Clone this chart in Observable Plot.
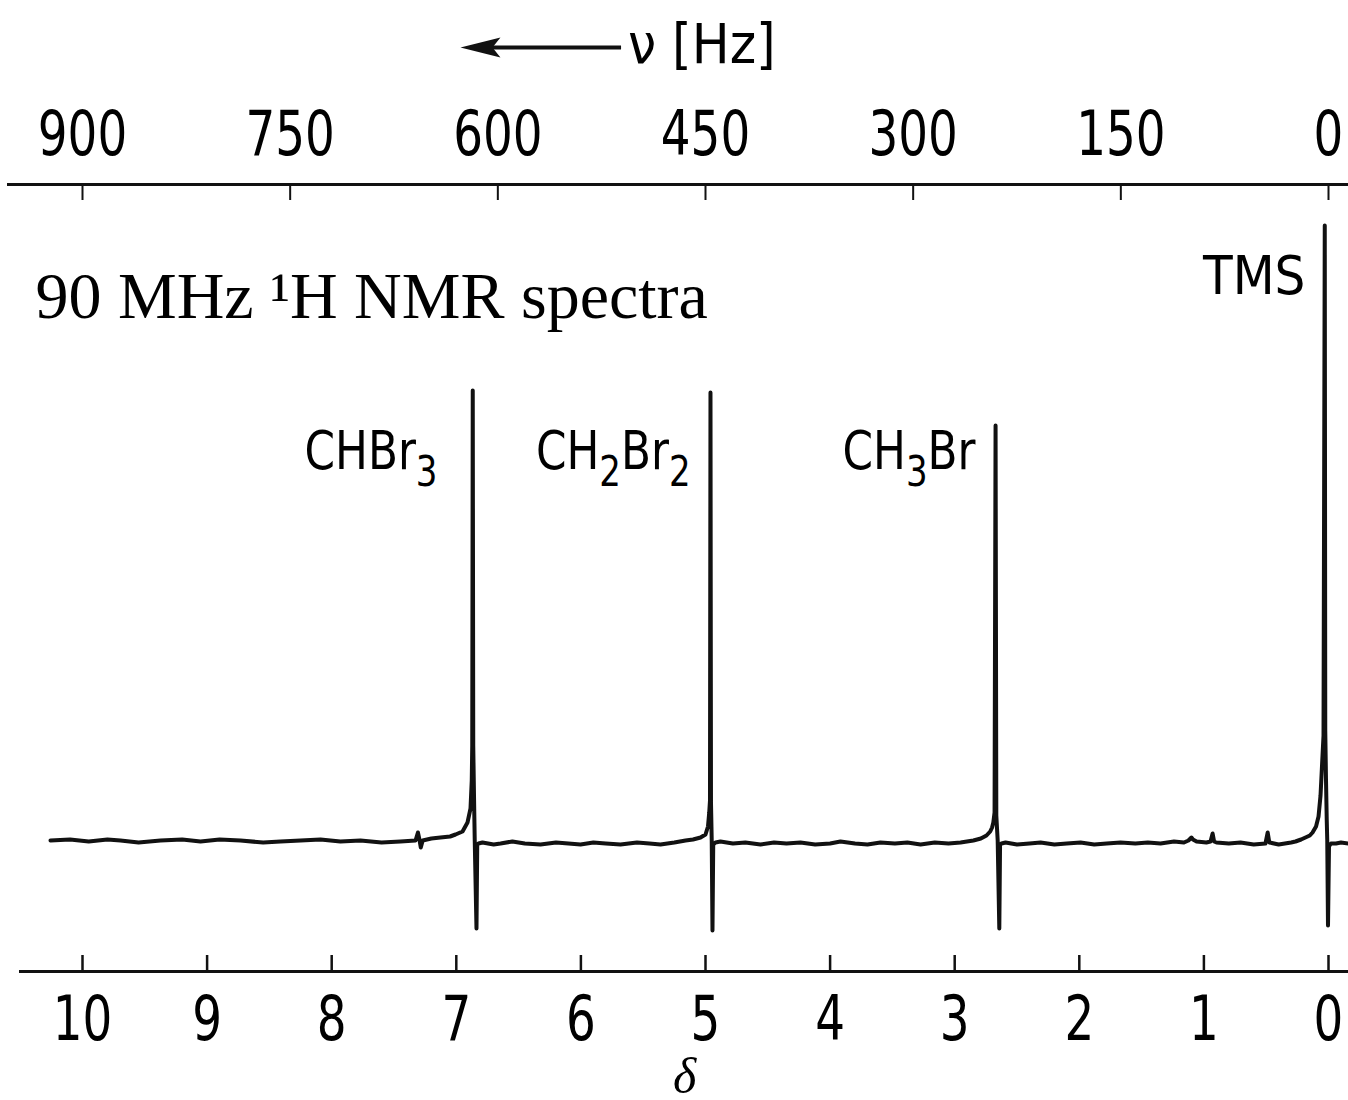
<!DOCTYPE html>
<html><head><meta charset="utf-8">
<script src="https://cdn.jsdelivr.net/npm/d3@7"></script>
<script src="https://cdn.jsdelivr.net/npm/@observablehq/plot@0.6"></script>
<style>html,body{margin:0;padding:0;background:#fff}</style>
</head><body><div id="chart"></div>
<script>
// ---- data ----
const deltaTicks = [10, 9, 8, 7, 6, 5, 4, 3, 2, 1, 0];
const hzTicks = [900, 750, 600, 450, 300, 150, 0];
const spectrometerMHz = 90;
const traceDelta = [10.257,10.10,9.95,9.80,9.695,9.55,9.374,9.20,9.053,8.90,8.732,8.55,8.411,8.25,8.090,7.93,7.769,7.60,7.448,7.327,7.308,7.296,7.285,7.270,7.200,7.127,7.050,7.006,6.950,6.910,6.886,6.876,6.872,6.868,6.864,6.858,6.852,6.838,6.832,6.822,6.790,6.70,6.645,6.55,6.45,6.324,6.20,6.10,6.003,5.90,5.80,5.682,5.55,5.45,5.361,5.25,5.160,5.100,5.040,5.000,4.980,4.970,4.964,4.960,4.956,4.950,4.944,4.938,4.920,4.880,4.78,4.68,4.559,4.45,4.35,4.238,4.12,4.00,3.917,3.80,3.70,3.596,3.48,3.38,3.274,3.16,3.05,2.953,2.85,2.790,2.745,2.715,2.700,2.690,2.680,2.672,2.666,2.655,2.642,2.636,2.624,2.592,2.50,2.40,2.311,2.20,2.10,1.990,1.88,1.78,1.669,1.55,1.45,1.348,1.24,1.16,1.124,1.100,1.088,1.059,0.98,0.947,0.930,0.918,0.899,0.80,0.706,0.60,0.506,0.488,0.475,0.40,0.30,0.265,0.220,0.185,0.150,0.128,0.100,0.080,0.064,0.050,0.040,0.030,0.026,0.020,0.014,0.010,0.004,-0.004,-0.020,-0.060,-0.100,-0.161];
const traceIntensity = [0,1,-1,1,0,-2,0,1,-1,1,0,-2,-1,0,1,-1,0,-2,-1,0,8,1,-7,0,2,3,4,6,9,18,32,60,95,450,95,45,0,-88,-4,-3,-2,-4,-3,-1,-3,-4,-2,-3,-4,-2,-3,-4,-2,-3,-4,-2,0,1,3,6,14,28,40,448,38,0,-90,-4,-2,-1,-3,-2,-4,-2,-3,-2,-4,-3,-1,-3,-4,-2,-3,-2,-4,-2,-3,-2,0,2,5,9,13,18,28,415,25,0,-88,-4,-3,-2,-4,-3,-2,-4,-3,-2,-4,-3,-2,-3,-2,-3,-1,-2,0,3,1,-1,-2,-1,7,-1,-2,-3,-2,-4,-3,8,-2,-4,-2,-1,1,3,5,8,14,24,45,80,105,615,110,60,20,0,-85,-6,-3,-3,-2,-3];
const peakNames = ["CHBr₃", "CH₂Br₂", "CH₃Br", "TMS"];
const peakLabelDelta = [7.151, 5.120, 2.833, 0.185];
const peakLabelHeight = [389, 389, 389, 564];
const titleText = "90 MHz ¹H NMR spectra";
const topAxisTitle = "ν [Hz]";
const topAxisTitleHz = 506;
const topAxisTitleHeight = 795;
const arrowHz = [511, 627];
const arrowHeight = 793;
const bottomAxisTitle = "δ";

// ---- build ----
const trace = traceDelta.map((d, i) => ({delta: d, intensity: traceIntensity[i]}));
const peakLabels = peakNames.map((n, i) => ({name: n, delta: peakLabelDelta[i], height: peakLabelHeight[i]}));
const hzAsDelta = hzTicks.map(h => h / spectrometerMHz);
const narrow = "'DejaVu Sans Condensed', 'DejaVu Sans', sans-serif";
const serif = "'Liberation Serif', 'DejaVu Serif', serif";
const arrowHead = {draw(ctx) { ctx.moveTo(0, 0); ctx.lineTo(40, -10); ctx.lineTo(32, 0); ctx.lineTo(40, 10); ctx.closePath(); }};

const chart = Plot.plot({
  width: 1348, height: 1100,
  marginTop: 184, marginBottom: 129, marginLeft: 20, marginRight: 0,
  x: {domain: [10, 0], range: [82, 1328]},
  y: {domain: [0, 615], range: [840, 225], axis: null},
  style: {background: "white", color: "black", overflow: "visible"},
  marks: [
    Plot.frame({anchor: "bottom", strokeWidth: 3, stroke: "#111"}),
    Plot.frame({anchor: "top", strokeWidth: 3, stroke: "#111", insetLeft: -12}),
    Plot.ruleX(deltaTicks, {insetTop: 771, strokeWidth: 2.5, stroke: "#111"}),
    Plot.ruleX(hzAsDelta, {insetBottom: 771, strokeWidth: 2, stroke: "#111"}),
    Plot.axisX(deltaTicks, {anchor: "bottom", tickSize: 0, tickPadding: 24, fontSize: 62, fontFamily: narrow, label: null, tickFormat: d => String(d)}),
    Plot.axisX(hzAsDelta, {anchor: "top", tickSize: 0, tickPadding: 30, fontSize: 62, fontFamily: narrow, label: null, tickFormat: d => String(Math.round(d * spectrometerMHz))}),
    Plot.text([bottomAxisTitle], {frameAnchor: "bottom", lineAnchor: "middle", dy: 105, fontSize: 50, fontFamily: serif, fontStyle: "italic"}),
    Plot.line(trace, {x: "delta", y: "intensity", stroke: "#111", strokeWidth: 4, strokeLinejoin: "round"}),
    Plot.text(peakLabels, {x: "delta", y: "height", text: "name", textAnchor: "end", lineAnchor: "middle", fontSize: 54, fontFamily: narrow}),
    Plot.text([titleText], {frameAnchor: "top-left", lineAnchor: "top", dx: 15, dy: 87, fontSize: 66, fontFamily: serif}),
    Plot.link([arrowHz], {x1: d => d[0] / spectrometerMHz, x2: d => d[1] / spectrometerMHz - 0.15, y1: arrowHeight, y2: arrowHeight, stroke: "#111", strokeWidth: 4}),
    Plot.dot([arrowHz], {x: d => d[1] / spectrometerMHz, y: arrowHeight, symbol: arrowHead, fill: "#111", stroke: "none"}),
    Plot.text([topAxisTitle], {x: topAxisTitleHz / spectrometerMHz, y: topAxisTitleHeight, textAnchor: "start", lineAnchor: "middle", fontSize: 56, fontFamily: narrow})
  ]
});

// narrow the lettering (the original uses a condensed engineering font)
function squeeze(el, k) {
  const t = el.getAttribute("transform");
  if (t) el.setAttribute("transform", t + ` scale(${k},1)`);
  else {
    const x = +el.getAttribute("x") || 0, y = +el.getAttribute("y") || 0;
    el.removeAttribute("x"); el.removeAttribute("y");
    el.setAttribute("transform", `translate(${x},${y}) scale(${k},1)`);
  }
}
chart.querySelectorAll('g[aria-label="x-axis tick label"] text').forEach(el => squeeze(el, 0.84));
chart.querySelectorAll('g[aria-label="text"] text').forEach(el => {
  if (peakNames.includes(el.textContent) && el.textContent !== "TMS") squeeze(el, 0.9);
});

// real subscripts for the chemical formulas
const subMap = {"₀":"0","₁":"1","₂":"2","₃":"3","₄":"4","₅":"5","₆":"6","₇":"7","₈":"8","₉":"9"};
chart.querySelectorAll('text').forEach(el => {
  const s = el.textContent;
  if (!/[₀-₉]/.test(s) || el.children.length) return;
  el.textContent = "";
  let shifted = false;
  for (const ch of s) {
    const ts = document.createElementNS("http://www.w3.org/2000/svg", "tspan");
    if (subMap[ch]) {
      ts.textContent = subMap[ch];
      ts.setAttribute("font-size", "42");
      if (!shifted) { ts.setAttribute("dy", "17"); shifted = true; }
    } else {
      ts.textContent = ch;
      if (shifted) { ts.setAttribute("dy", "-17"); shifted = false; }
    }
    el.appendChild(ts);
  }
});
document.getElementById("chart").appendChild(chart);
</script>
</body></html>
